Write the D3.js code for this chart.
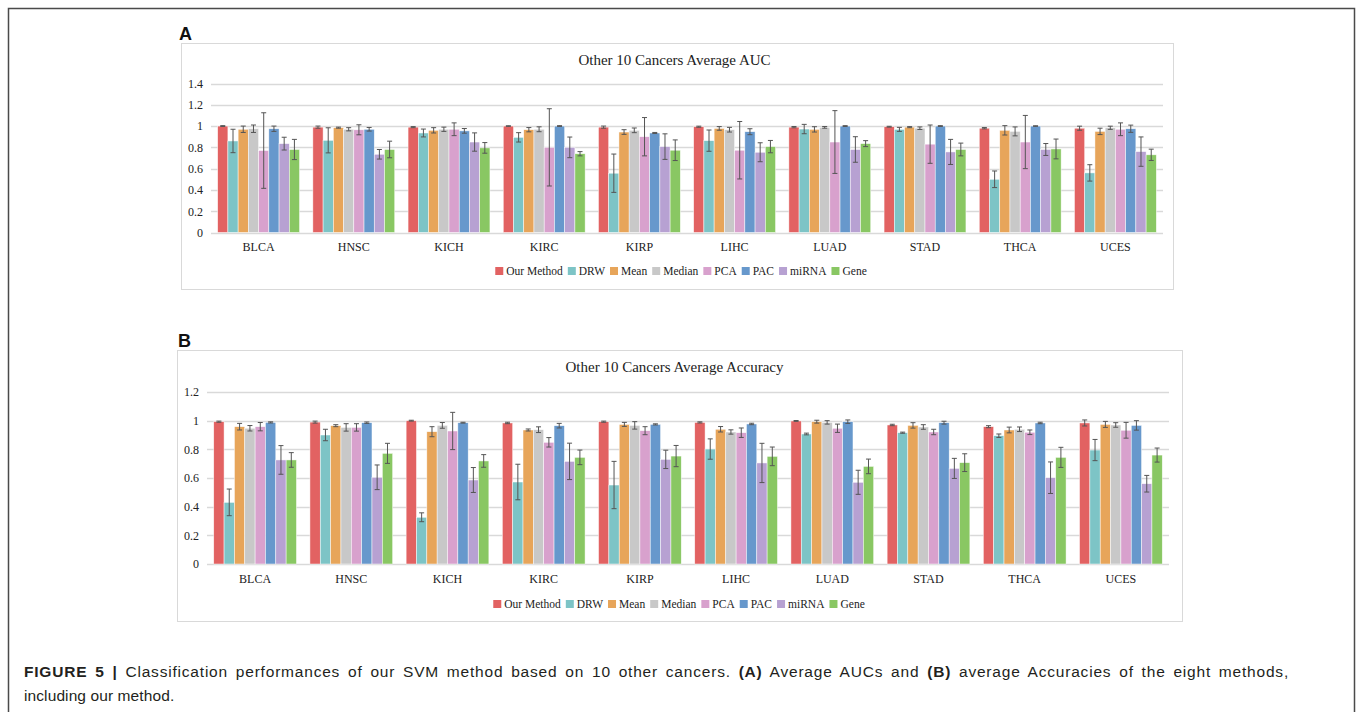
<!DOCTYPE html>
<html><head><meta charset="utf-8">
<script src="https://cdn.jsdelivr.net/npm/d3@7"></script>
<style>body{margin:0;background:#fff}svg{display:block}</style>
</head><body>
<svg id="c" width="1357" height="712"></svg>
<script>
const categories = ["BLCA","HNSC","KICH","KIRC","KIRP","LIHC","LUAD","STAD","THCA","UCES"];
const methods = ["Our Method","DRW","Mean","Median","PCA","PAC","miRNA","Gene"];
const colors = ["#E26262","#7DC4C6","#E7A55A","#C8C8C8","#D8A1CD","#6798CC","#B7A1D2","#89C763"];

// Panel A: AUC means, rows = categories, columns = methods
const aucMean = [
 [1.00,0.86,0.97,0.975,0.77,0.975,0.835,0.78],
 [0.99,0.866,0.985,0.97,0.965,0.97,0.735,0.78],
 [0.99,0.935,0.96,0.97,0.97,0.955,0.85,0.795],
 [1.00,0.894,0.966,0.97,0.80,1.00,0.80,0.74],
 [0.99,0.557,0.944,0.96,0.90,0.935,0.807,0.773],
 [0.994,0.863,0.978,0.966,0.773,0.947,0.754,0.807],
 [0.99,0.972,0.969,0.988,0.85,1.00,0.78,0.835],
 [0.994,0.969,0.99,0.98,0.83,1.00,0.757,0.78],
 [0.98,0.50,0.96,0.95,0.85,1.00,0.78,0.785],
 [0.98,0.56,0.95,0.984,0.97,0.975,0.76,0.73]
];
const aucErr = [
 [0.004,0.11,0.03,0.035,0.355,0.025,0.06,0.095],
 [0.01,0.118,0.005,0.015,0.047,0.017,0.045,0.078],
 [0.005,0.037,0.025,0.02,0.06,0.022,0.086,0.05],
 [0.003,0.044,0.02,0.023,0.363,0.004,0.097,0.02],
 [0.01,0.18,0.022,0.022,0.18,0.005,0.12,0.097],
 [0.005,0.10,0.017,0.022,0.27,0.028,0.089,0.058],
 [0.006,0.044,0.025,0.008,0.295,0.004,0.12,0.028],
 [0.004,0.019,0.005,0.012,0.18,0.004,0.118,0.06],
 [0.006,0.078,0.044,0.042,0.25,0.003,0.056,0.093],
 [0.019,0.077,0.03,0.015,0.06,0.034,0.138,0.053]
];
// Panel B: Accuracy
const accMean = [
 [0.993,0.43,0.958,0.947,0.958,0.988,0.726,0.726],
 [0.99,0.90,0.965,0.953,0.953,0.986,0.605,0.772],
 [1.00,0.326,0.923,0.967,0.928,0.986,0.586,0.719],
 [0.984,0.572,0.935,0.937,0.849,0.965,0.716,0.744],
 [0.993,0.551,0.974,0.967,0.93,0.974,0.73,0.753],
 [0.988,0.802,0.94,0.921,0.916,0.977,0.705,0.751],
 [0.998,0.907,0.993,0.988,0.947,0.993,0.57,0.681],
 [0.97,0.916,0.967,0.956,0.921,0.986,0.667,0.707],
 [0.958,0.895,0.935,0.94,0.919,0.984,0.602,0.744],
 [0.984,0.795,0.974,0.97,0.933,0.967,0.56,0.76]
];
const accErr = [
 [0.004,0.093,0.023,0.019,0.029,0.004,0.10,0.051],
 [0.007,0.04,0.007,0.026,0.026,0.005,0.086,0.07],
 [0.003,0.031,0.035,0.02,0.13,0.003,0.087,0.044],
 [0.005,0.124,0.007,0.02,0.033,0.016,0.127,0.051],
 [0.004,0.165,0.014,0.026,0.028,0.004,0.064,0.074],
 [0.004,0.071,0.019,0.015,0.033,0.005,0.137,0.065],
 [0.003,0.006,0.01,0.012,0.029,0.012,0.084,0.051],
 [0.005,0.004,0.019,0.016,0.019,0.01,0.07,0.062],
 [0.007,0.012,0.02,0.016,0.016,0.005,0.11,0.07],
 [0.021,0.074,0.021,0.016,0.055,0.033,0.058,0.049]
];
const ticksA = [0,0.2,0.4,0.6,0.8,1,1.2,1.4];
const ticksB = [0,0.2,0.4,0.6,0.8,1,1.2];

const svg = d3.select("#c");
const serif = "'Liberation Serif','Times New Roman',serif";

// outer frame
svg.append("path").attr("d","M8.5,712 V8.5 H1354.5 V712").attr("fill","none").attr("stroke","#4a4a4a").attr("stroke-width",1.5);

function panel(cfg){
  const g = svg.append("g");
  g.append("rect").attr("x",cfg.box[0]+0.5).attr("y",cfg.box[1]+0.5).attr("width",cfg.box[2]).attr("height",cfg.box[3])
    .attr("fill","#fff").attr("stroke","#d9d9d9").attr("stroke-width",1);
  svg.append("text").attr("x",cfg.label[0]).attr("y",cfg.label[1]).text(cfg.letter)
    .attr("font-family","'Liberation Sans',Arial,sans-serif").attr("font-weight","bold").attr("font-size",18).attr("fill","#111");
  const x = d3.scaleBand().domain(categories).range([cfg.x0,cfg.x1]).paddingInner(0.14).paddingOuter(0.07);
  const xi = d3.scaleBand().domain(methods).range([0,x.bandwidth()]);
  const y = d3.scaleLinear().domain([0,cfg.ymax]).range([cfg.y0,cfg.ytop]);
  // grid
  g.selectAll("line.grid").data(cfg.ticks).join("line")
    .attr("x1",cfg.x0).attr("x2",cfg.x1).attr("y1",d=>Math.round(y(d))+0.5).attr("y2",d=>Math.round(y(d))+0.5)
    .attr("stroke","#d9d9d9").attr("stroke-width",1.3);
  const ax = d3.axisLeft(y).tickValues(cfg.ticks).tickFormat(d=>String(+d.toFixed(1))).tickSize(0).tickPadding(8);
  const ag = g.append("g").attr("transform",`translate(${cfg.x0},0)`).call(ax);
  ag.attr("font-family",serif).attr("font-size",12);
  ag.select(".domain").remove();
  ag.selectAll("text").attr("font-family",serif).attr("font-size",12).attr("fill","#222");
  // bars
  const groups = g.selectAll("g.cat").data(categories).join("g").attr("transform",d=>`translate(${x(d)},0)`);
  groups.each(function(c,ci){
    const gg = d3.select(this);
    const rows = methods.map((m,mi)=>({m,mi,v:cfg.mean[ci][mi],e:cfg.err[ci][mi]}));
    gg.selectAll("rect").data(rows).join("rect")
      .attr("x",d=>xi(d.m)).attr("width",xi.bandwidth())
      .attr("y",d=>y(d.v)).attr("height",d=>y(0)-y(d.v))
      .attr("fill",d=>colors[d.mi]).attr("stroke","#fff").attr("stroke-width",0.6).attr("stroke-opacity",0.8);
    const eb = gg.selectAll("g.eb").data(rows).join("g");
    const cx = d=>xi(d.m)+xi.bandwidth()/2;
    eb.append("line").attr("x1",cx).attr("x2",cx).attr("y1",d=>y(d.v+d.e)).attr("y2",d=>y(d.v-d.e))
      .attr("stroke","#555").attr("stroke-width",1);
    [1,-1].forEach(s=>{
      eb.append("line").attr("x1",d=>cx(d)-2.5).attr("x2",d=>cx(d)+2.5)
        .attr("y1",d=>y(d.v+s*d.e)).attr("y2",d=>y(d.v+s*d.e)).attr("stroke","#555").attr("stroke-width",1);
    });
  });
  // category labels
  g.selectAll("text.cat").data(categories).join("text")
    .attr("x",d=>x(d)+x.bandwidth()/2).attr("y",cfg.catY).attr("text-anchor","middle")
    .attr("font-family",serif).attr("font-size",12).attr("fill","#222").text(d=>d);
  // title
  g.append("text").attr("x",674.5).attr("y",cfg.titleY).attr("text-anchor","middle")
    .attr("font-family",serif).attr("font-size",15).attr("fill","#222").text(cfg.title);
  // legend
  const lg = g.append("g");
  let off = 0;
  methods.forEach((m,i)=>{
    const it = lg.append("g").attr("transform",`translate(${off},0)`);
    it.append("rect").attr("x",0).attr("y",-8).attr("width",8).attr("height",8).attr("fill",colors[i]);
    const t = it.append("text").attr("x",11).attr("y",0).attr("font-family",serif).attr("font-size",11.5).attr("fill","#222").text(m);
    off += 11 + t.node().getComputedTextLength() + 5;
  });
  const w = off - 5;
  lg.attr("transform",`translate(${cfg.legCX - w/2},${cfg.legY})`);
}

panel({box:[181,43,992,246],label:[179,40],letter:"A",x0:211,x1:1163,y0:232.5,ytop:83.5,ymax:1.4,ticks:ticksA,
  mean:aucMean,err:aucErr,catY:251,titleY:65,title:"Other 10 Cancers Average AUC",legY:275,legCX:681});
panel({box:[177,350,1005,271],label:[178,347],letter:"B",x0:207,x1:1169,y0:564,ytop:392,ymax:1.2,ticks:ticksB,
  mean:accMean,err:accErr,catY:583,titleY:372,title:"Other 10 Cancers Average Accuracy",legY:608,legCX:679});

// caption (first line justified to full width)
const cap = svg.append("g").attr("font-family","'Liberation Sans',Arial,sans-serif").attr("font-size",15.5).attr("fill","#231f20");
const l1 = cap.append("text").attr("x",24).attr("y",677).attr("letter-spacing",0.8);
const parts = [["FIGURE 5 | ",true],["Classification performances of our SVM method based on 10 other cancers. ",false],
  ["(A)",true],[" Average AUCs and ",false],["(B)",true],[" average Accuracies of the eight methods,",false]];
parts.forEach(([t,b])=>l1.append("tspan").attr("font-weight",b?"bold":null).text(t));
const nat = l1.node().getComputedTextLength();
const nSpaces = parts.map(p=>p[0]).join("").split(" ").length-1;
l1.attr("word-spacing",Math.max(0,(1265-nat)/nSpaces));
cap.append("text").attr("x",24).attr("y",701).attr("letter-spacing",0.1).text("including our method.");
</script>
</body></html>
